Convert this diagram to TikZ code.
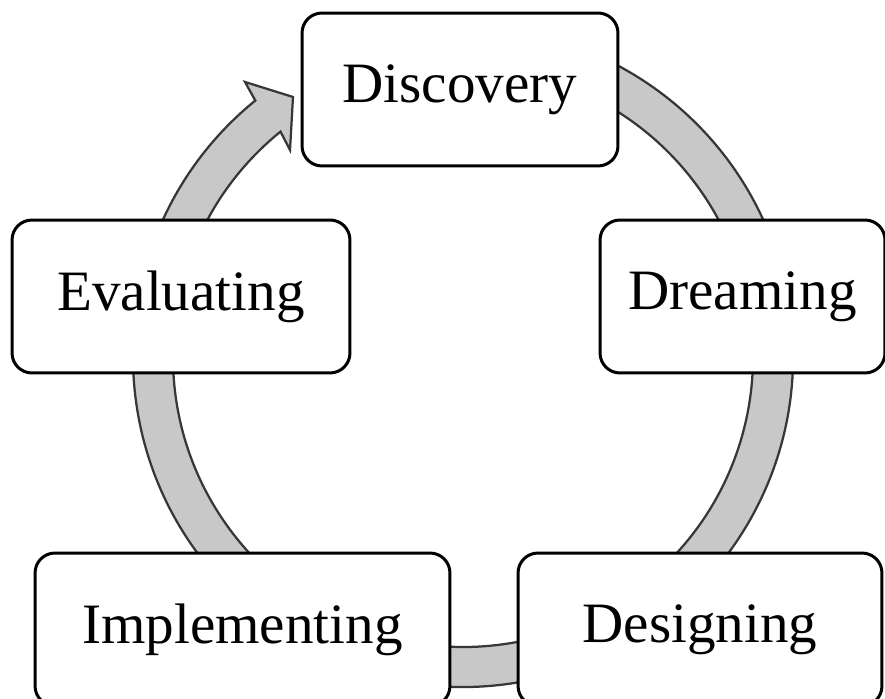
\documentclass[tikz,border=0pt]{standalone}
\usepackage{fontspec}
\setmainfont{Liberation Serif}
\definecolor{ringgray}{RGB}{200,200,200}
\definecolor{ringedge}{RGB}{55,55,55}
\tikzset{
  stage/.style={draw, line width=0.06cm, rounded corners=0.4cm, fill=white, inner sep=0pt,
    minimum height=3.06cm, font=\fontsize{32.5}{39}\selectfont},
  ring/.style={fill=ringgray, draw=ringedge, line width=0.045cm, line join=miter}
}

\begin{document}
\begin{tikzpicture}[x=0.02cm, y=0.02cm]
  \useasboundingbox (0,0) rectangle (885,699);
  \clip (0,0) rectangle (885,699);

  % the cycle band with its arrow head
  \coordinate (hub) at (463,342);
  \draw[ring] ([shift={(100:330)}]hub) arc[start angle=100, end angle=-231, radius=330]
    -- (245,617) -- (293,602) -- (290,549)
    -- ([shift={(-231:290)}]hub) arc[start angle=-231, end angle=100, radius=290] -- cycle;

  % the five stages
  \node[stage, minimum width=6.32cm] (disc) at (460,609.5) {Discovery};
  \node[stage, minimum width=5.70cm] (dream) at (742.5,402.5) {Dreaming};
  \node[stage, minimum width=7.28cm] (desig) at (700,69.5) {Designing};
  \node[stage, minimum width=8.30cm] (impl) at (242.5,69.5) {Implementing};
  \node[stage, minimum width=6.76cm] (eval) at (181,402.5) {Evaluating};
\end{tikzpicture}
\end{document}
